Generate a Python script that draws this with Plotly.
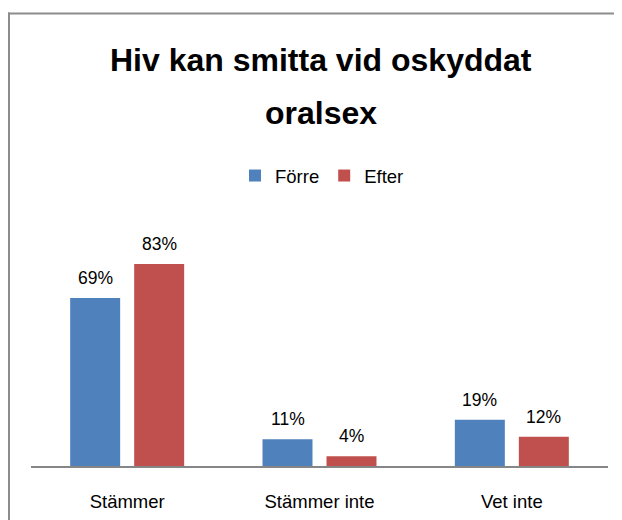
import plotly.graph_objects as go

categories = ["Stämmer", "Stämmer inte", "Vet inte"]
series_names = ["Förre", "Efter"]
forre_values = [69, 11, 19]
efter_values = [83, 4, 12]
colors = ["#4F81BD", "#C0504D"]
title_lines = ["Hiv kan smitta vid oskyddat", "oralsex"]

FONT = "Liberation Sans, Arial, sans-serif"

# page body adds an 8px margin; layout targets below are in screen pixels
OFF = 8
SCREEN_W, SCREEN_H = 622, 520
W, H = SCREEN_W, SCREEN_H
PLOT_LEFT, PLOT_RIGHT, PLOT_TOP, PLOT_BOTTOM = 31, 608, 247, 466
ML = PLOT_LEFT - OFF
MR = W - (PLOT_RIGHT - OFF)
MT = PLOT_TOP - OFF
MB = H - (PLOT_BOTTOM - OFF)
plot_w = PLOT_RIGHT - PLOT_LEFT
plot_h = PLOT_BOTTOM - PLOT_TOP
Y_MAX = 90
BARGAP = 0.3345
BARGROUPGAP = 0.219

fig = go.Figure()
for name, vals, col in zip(series_names, [forre_values, efter_values], colors):
    fig.add_trace(go.Bar(
        name=name, x=categories, y=vals,
        marker=dict(color=col, line=dict(width=0)),
        hoverinfo="skip",
    ))

cat_px = plot_w / len(categories)
slot = cat_px * (1 - BARGAP) / len(series_names)
annotations = []
for i, (vals, name) in enumerate(zip([forre_values, efter_values], series_names)):
    offset = (i - (len(series_names) - 1) / 2) * slot
    for c, v in zip(categories, vals):
        annotations.append(dict(
            x=c, y=v, xref="x", yref="y", text=f"{v}%", showarrow=False,
            xanchor="center", yanchor="bottom", xshift=offset, yshift=8,
            font=dict(family=FONT, size=17.5, color="#000000"),
        ))

def py(pix):
    return (PLOT_BOTTOM - pix) / plot_h

def px(pix):
    return (pix - PLOT_LEFT) / plot_w

for line, yc in zip(title_lines, [60, 113]):
    annotations.append(dict(
        x=px(321), y=py(yc), xref="paper", yref="paper", text=line,
        showarrow=False, xanchor="center", yanchor="middle",
        font=dict(family=FONT, size=32, color="#000000", weight="bold"),
    ))

border = dict(color="#8C8C8C", width=2)
fig.update_layout(
    width=W, height=H,
    margin=dict(l=ML, r=MR, t=MT, b=MB, pad=0),
    paper_bgcolor="white", plot_bgcolor="white",
    barmode="group", bargap=BARGAP, bargroupgap=BARGROUPGAP,
    showlegend=True,
    legend=dict(
        orientation="h", x=px(322), y=py(176), xanchor="center", yanchor="middle",
        font=dict(family=FONT, size=18.5, color="#000000"),
        bgcolor="rgba(0,0,0,0)", itemwidth=30, traceorder="normal",
    ),
    xaxis=dict(
        showline=True, linecolor="#868686", linewidth=1.5,
        showgrid=False, zeroline=False, ticks="",
        tickfont=dict(family=FONT, size=18.5, color="#000000"),
        ticklabelstandoff=18,
    ),
    yaxis=dict(visible=False, range=[0, Y_MAX], fixedrange=True),
    annotations=annotations,
    shapes=[
        dict(type="line", xref="paper", yref="paper",
             x0=px(8), x1=px(SCREEN_W + 20), y0=py(13.5), y1=py(13.5), line=border),
        dict(type="line", xref="paper", yref="paper",
             x0=px(9), x1=px(9), y0=py(12.5), y1=py(SCREEN_H + 20), line=border),
    ],
)

fig.write_html("out.html")
